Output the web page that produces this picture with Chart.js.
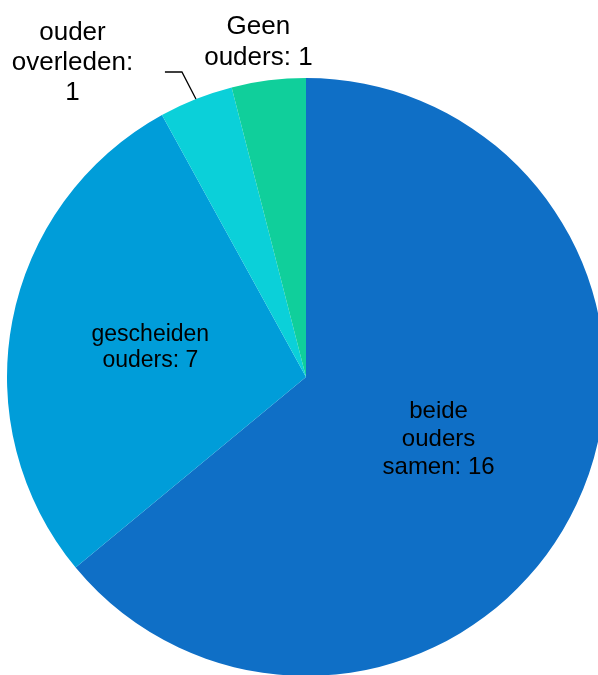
<!DOCTYPE html>
<html lang="nl">
<head>
    <meta charset="UTF-8">
    <title>Gezinssituatie</title>
    <style>
        body {
            margin: 0;
            background: #ffffff;
            overflow: hidden;
        }
        #pie {
            display: block;
        }
    </style>
    <script src="https://cdn.jsdelivr.net/npm/chart.js"></script>
</head>
<body>
    <canvas id="pie" width="612" height="680"></canvas>

    <script>
        // data
        const categories = ['beide ouders samen', 'gescheiden ouders', 'ouder overleden', 'Geen ouders'];
        const counts = [16, 7, 1, 1];
        const labelLines = [
            ['beide', 'ouders', 'samen: 16'],
            ['gescheiden', 'ouders: 7'],
            ['ouder', 'overleden:', '1'],
            ['Geen', 'ouders: 1']
        ];
        const sliceColors = ['#0F6FC6', '#009DD9', '#0BD0D9', '#10CF9B'];

        // where each label sits: fraction of radius, turn from the slice middle (degrees), font size, line height
        const labelPlace = [
            { r: 0.49, turn: 0, size: 24, lh: 28 },
            { r: 0.53, turn: 0, size: 23, lh: 26 },
            { r: 1.31, turn: -15, size: 26, lh: 30, leader: true },
            { r: 1.13, turn: -0.9, size: 26, lh: 31 }
        ];

        const pieLabels = {
            id: 'pieLabels',
            afterDatasetsDraw(chart) {
                const ctx = chart.ctx;
                const arcs = chart.getDatasetMeta(0).data;
                ctx.save();
                ctx.fillStyle = '#000000';
                ctx.textAlign = 'center';
                ctx.textBaseline = 'middle';

                arcs.forEach((arc, i) => {
                    const p = arc.getProps(['x', 'y', 'startAngle', 'endAngle', 'outerRadius'], true);
                    const mid = (p.startAngle + p.endAngle) / 2;
                    const place = labelPlace[i];
                    const a = mid + place.turn * Math.PI / 180;
                    const cx = p.x + Math.cos(a) * p.outerRadius * place.r;
                    const cy = p.y + Math.sin(a) * p.outerRadius * place.r;
                    const lines = labelLines[i];
                    const top = cy - (lines.length - 1) * place.lh / 2;
                    ctx.font = place.size + 'px "Liberation Sans", Arial, sans-serif';
                    lines.forEach((t, k) => ctx.fillText(t, cx, top + k * place.lh));

                    if (place.leader) {
                        // leader line from slice edge to label
                        const ex = p.x + Math.cos(mid) * p.outerRadius;
                        const ey = p.y + Math.sin(mid) * p.outerRadius;
                        ctx.strokeStyle = '#000000';
                        ctx.lineWidth = 1.3;
                        ctx.beginPath();
                        ctx.moveTo(ex, ey);
                        ctx.lineTo(ex - 14, ey - 27);
                        ctx.lineTo(ex - 31, ey - 27);
                        ctx.stroke();
                    }
                });
                ctx.restore();
            }
        };

        new Chart(document.getElementById('pie').getContext('2d'), {
            type: 'pie',
            data: {
                labels: categories,
                datasets: [{
                    data: counts,
                    backgroundColor: sliceColors,
                    borderWidth: 0
                }]
            },
            options: {
                responsive: false,
                animation: false,
                layout: {
                    padding: { left: 7, right: 7, top: 78, bottom: 4 }
                },
                plugins: {
                    legend: { display: false },
                    tooltip: { enabled: false }
                }
            },
            plugins: [pieLabels]
        });
    </script>
</body>
</html>
